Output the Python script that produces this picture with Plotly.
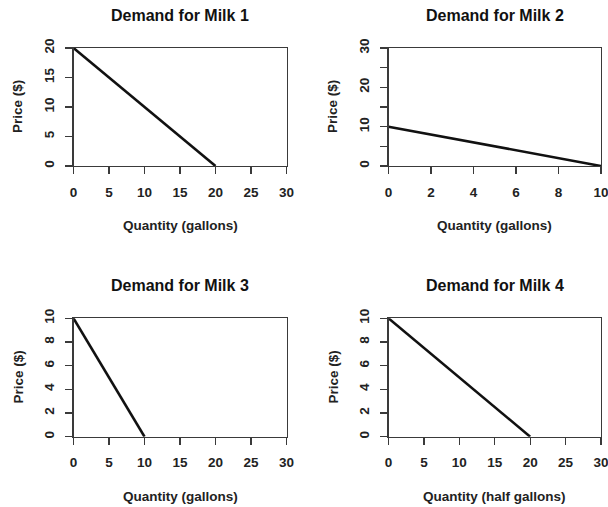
import plotly.graph_objects as go

# ---- data ----
milk1_quantity = [0, 20]
milk1_price = [20, 0]
milk2_quantity = [0, 10]
milk2_price = [10, 0]
milk3_quantity = [0, 10]
milk3_price = [10, 0]
milk4_quantity = [0, 20]
milk4_price = [10, 0]

titles = ["Demand for Milk 1", "Demand for Milk 2", "Demand for Milk 3", "Demand for Milk 4"]
x_titles = ["Quantity (gallons)", "Quantity (gallons)", "Quantity (gallons)", "Quantity (half gallons)"]
y_title = "Price ($)"

x_ranges = [[0, 30], [0, 10], [0, 30], [0, 30]]
y_ranges = [[0, 20], [0, 30], [0, 10], [0, 10]]
x_tickvals = [[0, 5, 10, 15, 20, 25, 30], [0, 2, 4, 6, 8, 10], [0, 5, 10, 15, 20, 25, 30], [0, 5, 10, 15, 20, 25, 30]]
y_tickvals = [[0, 5, 10, 15, 20], [0, 5, 10, 15, 20, 25, 30], [0, 2, 4, 6, 8, 10], [0, 2, 4, 6, 8, 10]]
y_ticktext = [["0", "5", "10", "15", "20"], ["0", "", "10", "", "20", "", "30"],
              ["0", "2", "4", "6", "8", "10"], ["0", "2", "4", "6", "8", "10"]]

series = [(milk1_quantity, milk1_price), (milk2_quantity, milk2_price),
          (milk3_quantity, milk3_price), (milk4_quantity, milk4_price)]

# ---- layout geometry (screen pixels) ----
W, H = 608, 507
col_px = [(73.5, 286.5), (388.5, 601.0)]
row_px = [(48.0, 166.0), (318.3, 436.7)]  # top, bottom in pixels from top


def fx(px):
    return px / W


def fy(py):
    return 1 - py / H


FONT = "Liberation Sans, Arial, Helvetica, sans-serif"
AXC = "#3a3a3a"

fig = go.Figure()
annotations = []

for i in range(4):
    r, c = divmod(i, 2)
    x0, x1 = col_px[c]
    top, bot = row_px[r]
    xd = [fx(x0), fx(x1)]
    yd = [fy(bot), fy(top)]
    xa = "xaxis" if i == 0 else f"xaxis{i+1}"
    ya = "yaxis" if i == 0 else f"yaxis{i+1}"
    xref = "x" if i == 0 else f"x{i+1}"
    yref = "y" if i == 0 else f"y{i+1}"

    q, p = series[i]
    fig.add_trace(go.Scatter(x=q, y=p, mode="lines", xaxis=xref, yaxis=yref,
                             line=dict(color="#111111", width=2.6), showlegend=False,
                             hoverinfo="skip", cliponaxis=False))

    common = dict(showline=True, mirror=True, linecolor=AXC, linewidth=1.3,
                  ticks="outside", ticklen=7, tickwidth=1.2, tickcolor=AXC,
                  showgrid=False, zeroline=False, fixedrange=True, automargin=False,
                  ticklabeloverflow="allow",
                  tickfont=dict(family=FONT, size=13.5, color="#222222", weight="bold"))
    fig.update_layout({
        xa: dict(domain=xd, range=x_ranges[i], anchor=yref, tickmode="array",
                 tickvals=x_tickvals[i], ticktext=[str(v) for v in x_tickvals[i]],
                 ticklabelstandoff=6, **common),
        ya: dict(domain=yd, range=y_ranges[i], anchor=xref, tickmode="array",
                 tickvals=y_tickvals[i], ticktext=y_ticktext[i], tickangle=-90,
                 ticklabelstandoff=6, **common),
    })

    cx = (x0 + x1) / 2
    # title
    annotations.append(dict(text=titles[i], x=fx(cx), y=fy(top - 33), xref="paper", yref="paper",
                            xanchor="center", yanchor="middle", showarrow=False,
                            font=dict(family=FONT, size=16, color="#111111", weight="bold")))
    # x axis title
    annotations.append(dict(text=x_titles[i], x=fx(cx), y=fy(bot + 59.5), xref="paper", yref="paper",
                            xanchor="center", yanchor="middle", showarrow=False,
                            font=dict(family=FONT, size=13.5, color="#222222", weight="bold")))
    # y axis title
    annotations.append(dict(text=y_title, x=fx(x0 - 55.5), y=fy((top + bot) / 2),
                            xref="paper", yref="paper", textangle=-90,
                            xanchor="center", yanchor="middle", showarrow=False,
                            font=dict(family=FONT, size=13.5, color="#222222", weight="bold")))

fig.update_layout(width=W, height=H, margin=dict(l=0, r=0, t=0, b=0, autoexpand=False),
                  paper_bgcolor="white", plot_bgcolor="white",
                  annotations=annotations, showlegend=False)

fig.write_html("out.html",
               config={"displayModeBar": False, "staticPlot": True},
               post_script="document.body.style.margin='0';document.body.style.overflow='hidden';")
